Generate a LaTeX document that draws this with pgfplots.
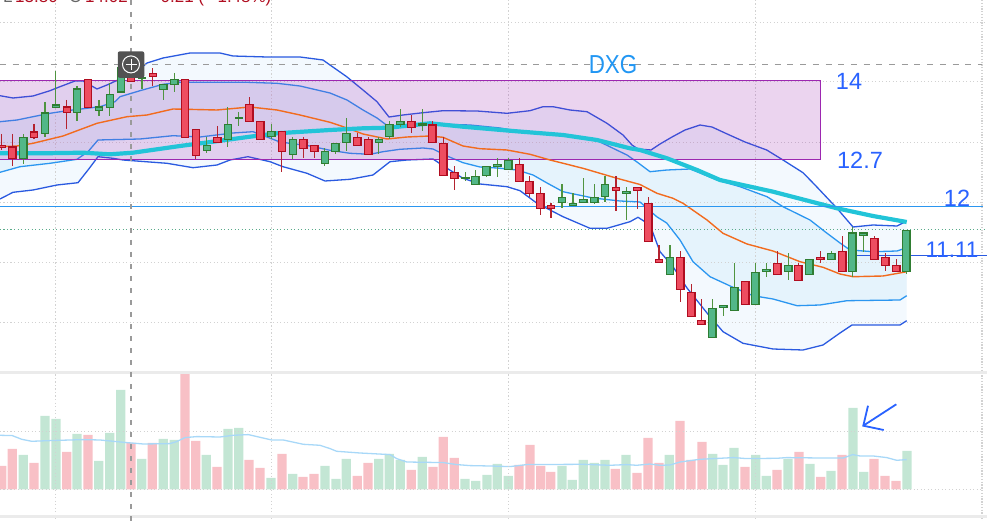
\documentclass[border=0pt]{standalone}
\usepackage{pgfplots}
\usepackage{pgfplotstable}
\usepackage{fontspec}
\setmainfont{Liberation Sans}
\pgfplotsset{compat=1.18}
\definecolor{outerblue}{HTML}{2A5AE0}
\definecolor{innerblue}{HTML}{2B96F0}
\definecolor{orangeline}{HTML}{F26B1E}
\definecolor{tealline}{HTML}{22C4D8}
\definecolor{labelblue}{HTML}{2962FF}
\definecolor{dxgblue}{HTML}{2196F3}
\definecolor{purp}{HTML}{9C27B0}
\definecolor{gridc}{HTML}{D2D2D2}
\definecolor{crossc}{HTML}{9A9A9A}
\definecolor{redfill}{HTML}{EE4D60}
\definecolor{redline}{HTML}{B00D20}
\definecolor{redwick}{HTML}{B4232F}
\definecolor{greenfill}{HTML}{52B788}
\definecolor{greenline}{HTML}{2F7D32}
\definecolor{greenwick}{HTML}{4F9440}
\definecolor{volred}{HTML}{F8C0C6}
\definecolor{volgreen}{HTML}{C3E6D4}
\definecolor{volma}{HTML}{A8D8F8}
\definecolor{bandouter}{HTML}{F3F9FE}
\definecolor{bandinner}{HTML}{E5F3FC}
\definecolor{greendot}{HTML}{5AAB8A}

% candles: pixel column, body top, body bottom, wick top, wick bottom
\pgfplotstableread{
x top bot hi lo
1.7 145.3 147.7 134 150
12.3 147 158.7 134 166
34 132 137.7 124 139
66.7 107 112.7 100 129
88 79.3 107.3 79.3 107.3
131 77 81.7 75 82.3
152.7 73.3 76.7 68.3 86
185 79.3 137.3 79.3 137.3
195.7 129.7 155.3 129 159
217.3 137.3 142.7 126 143
249.3 104.3 121.3 97.3 121.3
260.3 121.7 139.3 121.7 139.3
281.7 131.3 151.3 131 171.7
303.3 139.3 148.3 137 157.7
314.3 145.3 151.3 145 157.7
357.3 137.3 145.3 133.3 145.3
368.3 139.3 154.7 137.3 154.7
411.3 121.3 127.3 115.3 133.3
432.3 125 142.3 121.3 142.3
443.3 143.3 175.3 137.3 175.3
454.3 172.3 178.3 166.3 190.3
519.3 164.3 181.3 158.3 181.3
529.3 181.3 193.3 176.3 197.3
540.3 193.3 208.3 187.3 214.7
551 205.3 208.3 203.3 217.7
616 187.3 190.3 176.3 210.7
637.3 187.3 190.3 187.3 208.7
648.3 203.3 241.3 197.3 241.3
659 259.3 262.7 245.3 262.7
680.3 257.3 289.3 251.3 301.7
691.3 292.7 316.3 284.3 316.3
701.3 320.3 324.3 299.3 324.3
745.3 281.3 304.3 281.3 304.3
777.3 263.3 274.3 251.3 274.3
798.3 265.3 280.3 263.3 280.3
820.3 257.3 259.3 251.3 262.7
842.3 251.3 271.3 236.3 271.3
874.3 238.3 259.3 236.3 259.3
885.3 257.3 265.3 253.3 271.3
896.3 265.3 271.3 259.3 271.3
}\redcandles
\pgfplotstableread{
x top bot hi lo
23.3 137.3 158.7 134 164
45 113 133.7 102 137
55.7 105 107.7 71 108
77 89 112.3 86 120.7
99 107 110.7 100 115.7
109.7 94.3 107.3 83 115.7
120.7 68 92 65 93
142 78 78.7 75 88.7
163.3 84.3 89.3 84 99.7
174.3 79.3 84.3 73 92
206.7 145.3 150.3 137 152.7
227.7 124.3 139.3 107 146.7
238.7 117.5 118.5 112 125.7
271.3 131.3 136.3 124.3 138.7
292.7 139.3 154.3 137 159.3
324.7 151.3 163.7 148.3 165.7
335.3 143.3 151.7 143 153.7
346.3 133.3 142.3 118.3 151
378.7 139.3 142.3 137.3 154.3
389.3 124.3 136.3 121.3 139.3
400.3 121.3 124.3 109.3 127.3
422.3 124 125 109.3 130.7
465.3 177.8 178.8 172.3 180.7
475.3 176.3 184.3 170.3 184.3
486.3 166.3 175.3 166.3 177.3
497.3 164.3 166.3 158.3 177.3
508.3 160.3 169.3 158.3 169.3
562 197.3 202.3 184.3 208.3
573 203.3 205.3 193.3 205.3
583.3 199.3 202.3 178.3 202.3
594.3 197.3 202.3 184.3 204.3
605 184.3 196.3 176.3 202.3
626.3 191.3 193.3 187.3 219.7
670 257.3 274.3 245.3 274.3
712.3 308.3 337.3 299.3 337.3
723.3 305.3 307.3 305.3 316.3
734.3 287.3 310.3 263.3 310.3
755.3 272.3 304.3 263.3 304.3
766.3 269.3 271.3 263.3 277.3
788.3 265.3 271.3 253.3 280.3
809.3 259.3 274.3 259.3 274.3
831.3 253.3 259.3 251.3 259.3
852.3 233 271.3 227.3 277.3
863.3 233 235.3 233 252.3
906.3 230.3 271.3 230.3 274.3
}\greencandles

\pgfplotstableread{
x v
1.7 23.3
12.3 40.3
34 26.3
66.7 37.3
88 54.3
131 46.3
152.3 46.3
185 116.3
195.7 48.3
217 22.3
249 29.3
260 21.3
282 35.3
303 12.3
314 15.3
357.3 13.3
368 26.3
411.3 19.3
433 22.3
443.3 52.3
454.3 31.3
519 24.3
530 44.3
540.7 23.3
550.7 17.3
615.3 20.3
637 16.3
648 51.3
659 26.3
680 68.3
691 29.3
702 47.3
745 22.3
777 19.3
799 37.3
820.7 12.3
842 34.3
874 30.3
885 13.3
896 8.3
}\redvol
\pgfplotstableread{
x v
23.3 34.3
45 73.3
56 70.3
77 55.3
98.7 28.3
109.7 56.3
120.7 99.3
141.7 30.3
163.3 50.3
174.3 49.3
206.3 34.3
228 60.3
238.7 61.3
271 11.3
292.7 15.3
325 23.3
336 10.3
346.3 30.3
378.7 30.3
389.3 35.3
400.3 29.3
422.3 32.3
465 10.3
475.7 8.3
487 14.3
497.3 25.3
508.3 13.3
562 23.3
572.3 9.3
583.3 29.3
594.3 26.3
605 29.3
626 34.3
669.3 34.3
712.7 35.3
723 24.3
734 41.3
755.7 34.3
766.3 13.3
788 30.3
810 25.3
831 18.3
853 81.3
863.7 17.3
907 38.3
}\greenvol

\pgfplotsset{
  pane/.style={at={(0pt,0pt)},anchor=south west,scale only axis,width=987pt,height=521pt,
    hide axis,xmin=0,xmax=987},
  candlepart/.style n args={2}{no markers,draw=none,forget plot,
    error bars/.cd,y dir=both,y explicit,error mark=none,
    error bar style={solid,draw=#1,line width=#2}},
  gridh/.style={gridc,line width=0.9pt,dash pattern=on 1.3pt off 2.2pt,forget plot},
}
\begin{document}
\begin{tikzpicture}
\clip (0,0) rectangle (987pt,521pt);

% volume pane: heights above the volume baseline
\begin{axis}[pane,ymin=-31.7,ymax=489.3]
\addplot[ybar,bar width=9.3pt,bar shift=0pt,fill=volred,draw=none,forget plot] table[x=x,y=v] {\redvol};
\addplot[ybar,bar width=9.3pt,bar shift=0pt,fill=volgreen,draw=none,forget plot] table[x=x,y=v] {\greenvol};
\addplot[volma,line width=1.3pt,forget plot] coordinates {
(0,54)(12.3,53.7)(21.7,50)(31.7,48)(50,48.7)(83.3,49.7)(100,49.3)(126.7,46.7)(143.3,45.3)(170,45.7)(176.7,47.7)(185,51.7)(196.7,52.7)(220,52.3)(233.3,54)(248.3,54.7)(271.7,49.3)(283.3,49.3)(303.3,45)(320,44)(330,40.7)(336.7,38)(360,36.3)(390,34.7)(396.7,30.7)(406.7,27.3)(443.3,26.7)(456.7,24.7)(470,23.7)(490,23.3)(510,22.7)(526.7,24.7)(583.3,25)(610,24)(626.7,24.7)(636.7,24)(650,25.3)(660,24)(670,24.3)(680,27.3)(700,30)(733.3,31.7)(746.7,30.7)(776.7,31)(786.7,31.7)(820,31.3)(843.3,31.3)(852.7,34.7)(860,33.3)(873.3,33.3)(886.7,31.7)(896.7,29)(906.7,29.7)};
\end{axis}

% price pane: pixel rows, downwards
\begin{axis}[pane,ymin=0,ymax=521,y dir=reverse]
% band fills (upper edge forwards, lower edge back)
\addplot[fill=bandouter,draw=none,forget plot] coordinates {
(0,95.7)(13,98)(33,96)(50,90.7)(60,86.7)(75,81)(83,81)(97,89)(107,85)(120,79)(133,75)(147,63)(163,58)(190,53)(220,53)(233,56)(267,57)(300,57)(323,60)(330,65)(346.7,76.7)(363,90)(377,101.7)(389,117)(403,115)(423,112.7)(443,110.7)(477,111)(507,113.3)(530,110.7)(543,106.7)(553,106.7)(570,110)(587,111.7)(607,123.3)(623,135)(632,145)(638,149)(651,150)(660,144)(672,137)(685,130)(700,125)(712,127)(725,133)(745,142)(766.7,150)(783,160)(803,172.7)(815,185)(836.7,208)(853,227)(873,225)(897,226)(906.7,221)
(906.7,320.7)(900,325)(852,325)(840,333)(823,345)(803,350)(773,349)(743,343.3)(723,331.7)(707,313)(687,288)(673,266.7)(660,251.7)(650,225)(638,217.3)(630,221.7)(607,228.3)(590,228.3)(563,216.7)(550,210)(537,203.3)(520,190.7)(507,186.7)(480,184)(463,178.3)(447,168.3)(433,159)(407,160)(390,161.7)(373,175)(350,179.3)(325,181)(307,173.3)(283,166.7)(270,161.7)(248,156.7)(230,160)(217,165)(193,167.7)(167,163.3)(123,160)(113,158.3)(98,156.7)(88,170)(78,182.7)(57,185)(33,190)(13,192.3)(0,199)};
\addplot[fill=bandinner,draw=none,forget plot] coordinates {
(0,121.7)(17,120)(33,116.7)(50,113.3)(67,110.7)(100,106.7)(115,101.7)(120,96.7)(140,90.7)(163,84.3)(180,82.3)(247,82.3)(277,83.3)(300,86)(330,93)(347,100)(363,110)(377,118)(389,127)(410,125)(437,124)(470,125)(500,128)(530,133)(560,135)(590,138)(600,142)(627,155)(637,162)(650,171.7)(667,170)(690,169)(700,173)(717,180)(740,186.7)(767,196.7)(783,206.7)(810,220)(825,231.7)(840,243)(850,250)(873,251.7)(897,251)(906.7,247.7)
(906.7,295.7)(900,300)(847,300.7)(820,305)(797,305.7)(773,299)(753,295.7)(733,287.3)(710,276.7)(693,261.7)(680,240)(666.7,223)(656.7,216.7)(640,202)(620,201)(593,198)(563,191.7)(547,183)(533,175)(517,170)(497,168)(480,167)(463,162.7)(447,156)(433,149)(423,148)(400,149.3)(383,151.7)(370,154.3)(350,153.3)(330,150.3)(310,146)(280,142)(253,131.7)(233,133)(200,137)(173,135.7)(140,139)(98,140)(88,151.7)(77,159.3)(50,163.3)(20,166.7)(0,172.3)};

% grid
\addplot[gridh] coordinates {(0,22)(987,22)};
\addplot[gridh] coordinates {(0,81.7)(982,81.7)};
\addplot[gridh] coordinates {(0,142.3)(982,142.3)};
\addplot[gridh] coordinates {(0,202.5)(982,202.5)};
\addplot[gridh] coordinates {(0,262.3)(982,262.3)};
\addplot[gridh] coordinates {(0,322)(982,322)};
\addplot[gridh] coordinates {(0,431.3)(982,431.3)};
\addplot[gridh] coordinates {(0,489.3)(982,489.3)};
\addplot[gridh] coordinates {(55.7,0)(55.7,521)};
\addplot[gridh] coordinates {(271.7,0)(271.7,521)};
\addplot[gridh] coordinates {(508.3,0)(508.3,521)};
\addplot[gridh] coordinates {(755.3,0)(755.3,521)};
\addplot[gridc,line width=1.5pt,dash pattern=on 1.3pt off 1.5pt,forget plot] coordinates {(982,0)(982,521)};
\addplot[gridc!45,line width=3pt,forget plot] coordinates {(0,372)(987,372)};
\addplot[gridc!45,line width=3pt,forget plot] coordinates {(0,516)(987,516)};
\addplot[greendot,line width=1pt,dash pattern=on 1.3pt off 2.2pt,forget plot] coordinates {(0,229.4)(987,229.4)};

% band edges
\addplot[outerblue,line width=1.3pt,forget plot] coordinates {
(0,95.7)(13,98)(33,96)(50,90.7)(60,86.7)(75,81)(83,81)(97,89)(107,85)(120,79)(133,75)(147,63)(163,58)(190,53)(220,53)(233,56)(267,57)(300,57)(323,60)(330,65)(346.7,76.7)(363,90)(377,101.7)(389,117)(403,115)(423,112.7)(443,110.7)(477,111)(507,113.3)(530,110.7)(543,106.7)(553,106.7)(570,110)(587,111.7)(607,123.3)(623,135)(632,145)(638,149)(651,150)(660,144)(672,137)(685,130)(700,125)(712,127)(725,133)(745,142)(766.7,150)(783,160)(803,172.7)(815,185)(836.7,208)(853,227)(873,225)(897,226)(906.7,221)};
\addplot[outerblue,line width=1.3pt,forget plot] coordinates {
(0,199)(13,192.3)(33,190)(57,185)(78,182.7)(88,170)(98,156.7)(113,158.3)(123,160)(167,163.3)(193,167.7)(217,165)(230,160)(248,156.7)(270,161.7)(283,166.7)(307,173.3)(325,181)(350,179.3)(373,175)(390,161.7)(407,160)(433,159)(447,168.3)(463,178.3)(480,184)(507,186.7)(520,190.7)(537,203.3)(550,210)(563,216.7)(590,228.3)(607,228.3)(630,221.7)(638,217.3)(650,225)(660,251.7)(673,266.7)(687,288)(707,313)(723,331.7)(743,343.3)(773,349)(803,350)(823,345)(840,333)(852,325)(900,325)(906.7,320.7)};
\addplot[innerblue,line width=1.3pt,forget plot] coordinates {
(0,121.7)(17,120)(33,116.7)(50,113.3)(67,110.7)(100,106.7)(115,101.7)(120,96.7)(140,90.7)(163,84.3)(180,82.3)(247,82.3)(277,83.3)(300,86)(330,93)(347,100)(363,110)(377,118)(389,127)(410,125)(437,124)(470,125)(500,128)(530,133)(560,135)(590,138)(600,142)(627,155)(637,162)(650,171.7)(667,170)(690,169)(700,173)(717,180)(740,186.7)(767,196.7)(783,206.7)(810,220)(825,231.7)(840,243)(850,250)(873,251.7)(897,251)(906.7,247.7)};
\addplot[innerblue,line width=1.3pt,forget plot] coordinates {
(0,172.3)(20,166.7)(50,163.3)(77,159.3)(88,151.7)(98,140)(140,139)(173,135.7)(200,137)(233,133)(253,131.7)(280,142)(310,146)(330,150.3)(350,153.3)(370,154.3)(383,151.7)(400,149.3)(423,148)(433,149)(447,156)(463,162.7)(480,167)(497,168)(517,170)(533,175)(547,183)(563,191.7)(593,198)(620,201)(640,202)(656.7,216.7)(666.7,223)(680,240)(693,261.7)(710,276.7)(733,287.3)(753,295.7)(773,299)(797,305.7)(820,305)(847,300.7)(900,300)(906.7,295.7)};

% purple box
\addplot[draw=purp,fill=purp,fill opacity=0.2,line width=1.1pt,forget plot] coordinates {(-3,80.3)(820.3,80.3)(820.3,159.3)(-3,159.3)(-3,80.3)};

% orange and teal means
\addplot[orangeline,line width=1.4pt,forget plot] coordinates {
(0,146.7)(17,146)(33,143.3)(63,136)(97,123.3)(127,116.7)(147,115)(173,109)(217,110)(250,107)(277,110)(300,115)(330,122.3)(347,128)(363,134)(387,139)(407,137)(430,136)(443,137.3)(463,146)(480,148.7)(507,150)(530,154.3)(550,160)(583,168.3)(617,178.3)(640,184.5)(657,193.3)(673,198.3)(683,203.3)(707,220)(723,233.3)(747,244)(773,251)(800,261.7)(823,267.3)(840,274)(853,276.7)(883,276)(906.7,271.7)};
\addplot[tealline,line width=4.2pt,forget plot] coordinates {
(0,153.3)(43,153.3)(83,152.7)(110,154.3)(133,152.7)(180,146)(213,141.7)(250,136.7)(277,133.3)(330,130)(363,128.3)(389,127.7)(430,123.3)(463,126.7)(513,131)(563,135)(597,140)(630,148.3)(640,150)(667,158.3)(697,170)(720,180)(773,191.7)(837,208.3)(873,216)(906.7,222)};

% horizontal levels
\addplot[innerblue,line width=1pt,forget plot] coordinates {(0,207)(982.7,207)};
\addplot[outerblue,line width=1pt,forget plot] coordinates {(852,255.8)(987,255.8)};
\addplot[crossc,line width=1.3pt,dash pattern=on 6pt off 6.7pt,forget plot] coordinates {(0,64.4)(982,64.4)};
\addplot[crossc,line width=2pt,dash pattern=on 5pt off 7pt,forget plot] coordinates {(131,0)(131,521)};

% candles
\addplot[candlepart={redwick}{1.1pt}] table[x=x,y=hi,y error plus expr=\thisrow{lo}-\thisrow{hi},y error minus expr=0] {\redcandles};
\addplot[candlepart={redline}{8.4pt}] table[x=x,y=top,y error plus expr=\thisrow{bot}-\thisrow{top}+0.6,y error minus expr=0.6] {\redcandles};
\addplot[candlepart={redfill}{6pt}] table[x=x,y expr=\thisrow{top}+0.6,y error plus expr={max(\thisrow{bot}-\thisrow{top}-1.2,0)},y error minus expr=0] {\redcandles};
\addplot[candlepart={greenwick}{1.1pt}] table[x=x,y=hi,y error plus expr=\thisrow{lo}-\thisrow{hi},y error minus expr=0] {\greencandles};
\addplot[candlepart={greenline}{8.4pt}] table[x=x,y=top,y error plus expr=\thisrow{bot}-\thisrow{top}+0.6,y error minus expr=0.6] {\greencandles};
\addplot[candlepart={greenfill}{6pt}] table[x=x,y expr=\thisrow{top}+0.6,y error plus expr={max(\thisrow{bot}-\thisrow{top}-1.2,0)},y error minus expr=0] {\greencandles};

% arrow annotation
\addplot[labelblue,line width=1.8pt,forget plot] coordinates {(896.3,404.3)(863.3,425.7)};
\addplot[labelblue,line width=1.8pt,forget plot] coordinates {(868,405.7)(863.3,425.7)(883.7,430)};

% crosshair button
\node[fill=black!68,rounded corners=2pt,minimum size=26.5pt,inner sep=0pt] at (axis cs:131,64.6) {};
\draw[white,line width=1pt] (axis cs:131,64.4) circle[radius=8.5pt];
\draw[white,line width=1pt] (axis cs:125.5,64.4) -- (axis cs:136.5,64.4) (axis cs:131,59) -- (axis cs:131,70);

% labels
\node[anchor=base,text=dxgblue,inner sep=0pt] at (axis cs:613,73.5) {\scalebox{0.86}[1]{\fontsize{26}{26}\selectfont DXG}};
\node[anchor=base,text=labelblue,inner sep=0pt,font=\fontsize{23.5}{24}\selectfont] at (axis cs:849,90) {14};
\node[anchor=base,text=labelblue,inner sep=0pt,font=\fontsize{23.5}{24}\selectfont] at (axis cs:860,169) {12.7};
\node[anchor=base,text=labelblue,inner sep=0pt,font=\fontsize{23.5}{24}\selectfont] at (axis cs:957,207) {12};
\node[anchor=base,text=labelblue,inner sep=0pt,font=\fontsize{22.5}{24}\selectfont] at (axis cs:952,258) {11.11};
\end{axis}
% header, cut by the top edge
\begin{scope}[overlay]
\node[anchor=base west,inner sep=0pt,font=\fontsize{17}{18}\selectfont,text=black!60] at (3pt,518.5pt) {L};
\node[anchor=base west,inner sep=0pt,font=\fontsize{17}{18}\selectfont,text=redline] at (15pt,518.5pt) {13.80};
\node[anchor=base west,inner sep=0pt,font=\fontsize{17}{18}\selectfont,text=black!60] at (69pt,518.5pt) {C};
\node[anchor=base west,inner sep=0pt,font=\fontsize{17}{18}\selectfont,text=redline] at (85pt,518.5pt) {14.02};
\node[anchor=base west,inner sep=0pt,font=\fontsize{17}{18}\selectfont,text=redline] at (147pt,518.5pt) {$-$0.21 ($-$1.48\%)};
\end{scope}
\end{tikzpicture}
\end{document}
